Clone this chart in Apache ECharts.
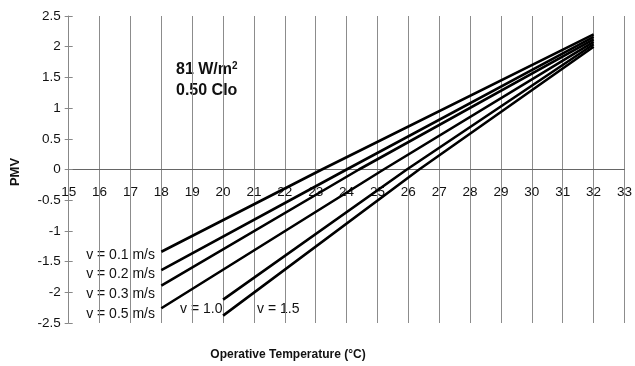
<!DOCTYPE html>
<html><head><meta charset="utf-8">
<script src="https://cdn.jsdelivr.net/npm/echarts@6/dist/echarts.min.js"></script>
<style>html,body{margin:0;padding:0;background:#fff}#c{width:635px;height:366px}</style>
</head><body><div id="c"></div>
<script>
// Operative temperature (°C) and PMV points
var v01 = [[18, -1.34], [23.2, 0], [32, 2.20]];
var v02 = [[18, -1.64], [24.0, 0], [32, 2.16]];
var v03 = [[18, -1.89], [24.4, 0], [32, 2.12]];
var v05 = [[18, -2.26], [25.2, 0], [32, 2.08]];
var v10 = [[20, -2.12], [25.95, 0], [32, 2.04]];
var v15 = [[20, -2.38], [26.35, 0], [32, 2.00]];
var seriesNames = ['v = 0.1 m/s', 'v = 0.2 m/s', 'v = 0.3 m/s', 'v = 0.5 m/s', 'v = 1.0', 'v = 1.5'];
var seriesData = [v01, v02, v03, v05, v10, v15];
var xMin = 15, xMax = 33, yMin = -2.5, yMax = 2.5;

var chart = echarts.init(document.getElementById('c'), null, {renderer: 'canvas'});
var font = 'Liberation Sans, Arial, sans-serif';
var series = seriesData.map(function (d, i) {
  return {
    name: seriesNames[i], type: 'line', data: d, symbol: 'none', smooth: false,
    lineStyle: {color: '#000', width: 2.6}, z: 5, animation: false
  };
});
var gridTop = 16, gridBottom = 43, H = 366;
var plotH = H - gridTop - gridBottom;
var zeroOffset = -plotH * (0 - yMin) / (yMax - yMin);
chart.setOption({
  animation: false,
  grid: {left: 68.7, right: 4.7, top: gridTop, bottom: gridBottom},
  xAxis: {
    type: 'value', min: xMin, max: xMax, interval: 1, position: 'bottom', offset: zeroOffset,
    axisLine: {onZero: false, lineStyle: {color: '#666', width: 1}},
    axisTick: {show: false},
    axisLabel: {color: '#111', fontFamily: font, fontSize: 13.5, margin: 16},
    splitLine: {show: true, lineStyle: {color: '#8c8c8c', width: 1}}
  },
  yAxis: [{
    type: 'value', min: yMin, max: yMax, interval: 0.5,
    axisLine: {show: true, lineStyle: {color: '#888', width: 1}},
    axisTick: {show: true, length: 4, lineStyle: {color: '#888'}},
    axisLabel: {color: '#111', fontFamily: font, fontSize: 13.5, margin: 8},
    splitLine: {show: false}
  }, {
    type: 'value', min: yMin, max: yMax, interval: 0.5, position: 'left',
    axisLine: {show: false},
    axisTick: {show: true, inside: true, length: 4, lineStyle: {color: '#888'}},
    axisLabel: {show: false}, splitLine: {show: false}
  }],
  series: series,
  graphic: [
    {type: 'text', x: 15, y: 172, rotation: Math.PI / 2, style: {text: 'PMV', font: 'bold 13px ' + font, fill: '#111', textAlign: 'center', textVerticalAlign: 'middle'}},
    {type: 'text', x: 288, y: 355, style: {text: 'Operative Temperature (°C)', font: 'bold 12px ' + font, fill: '#111', textAlign: 'center', textVerticalAlign: 'middle'}},
    {type: 'text', x: 176, y: 70, style: {rich: {a: {font: 'bold 16px ' + font, fill: '#111'}, s: {font: 'bold 10px ' + font, fill: '#111', verticalAlign: 'top', padding: [0, 0, 8, 0]}}, text: '{a|81 W/m}{s|2}', textVerticalAlign: 'middle'}},
    {type: 'text', x: 176, y: 91, style: {text: '0.50 Clo', font: 'bold 16px ' + font, fill: '#111', textVerticalAlign: 'middle'}},
    {type: 'text', x: 155, y: 255, style: {text: seriesNames[0], font: '14px ' + font, fill: '#111', textAlign: 'right', textVerticalAlign: 'middle'}},
    {type: 'text', x: 155, y: 274, style: {text: seriesNames[1], font: '14px ' + font, fill: '#111', textAlign: 'right', textVerticalAlign: 'middle'}},
    {type: 'text', x: 155, y: 294, style: {text: seriesNames[2], font: '14px ' + font, fill: '#111', textAlign: 'right', textVerticalAlign: 'middle'}},
    {type: 'text', x: 155, y: 314, style: {text: seriesNames[3], font: '14px ' + font, fill: '#111', textAlign: 'right', textVerticalAlign: 'middle'}},
    {type: 'text', x: 180, y: 309, style: {text: seriesNames[4], font: '14px ' + font, fill: '#111', textVerticalAlign: 'middle'}},
    {type: 'text', x: 257, y: 309, style: {text: seriesNames[5], font: '14px ' + font, fill: '#111', textVerticalAlign: 'middle'}}
  ]
});
</script></body></html>
